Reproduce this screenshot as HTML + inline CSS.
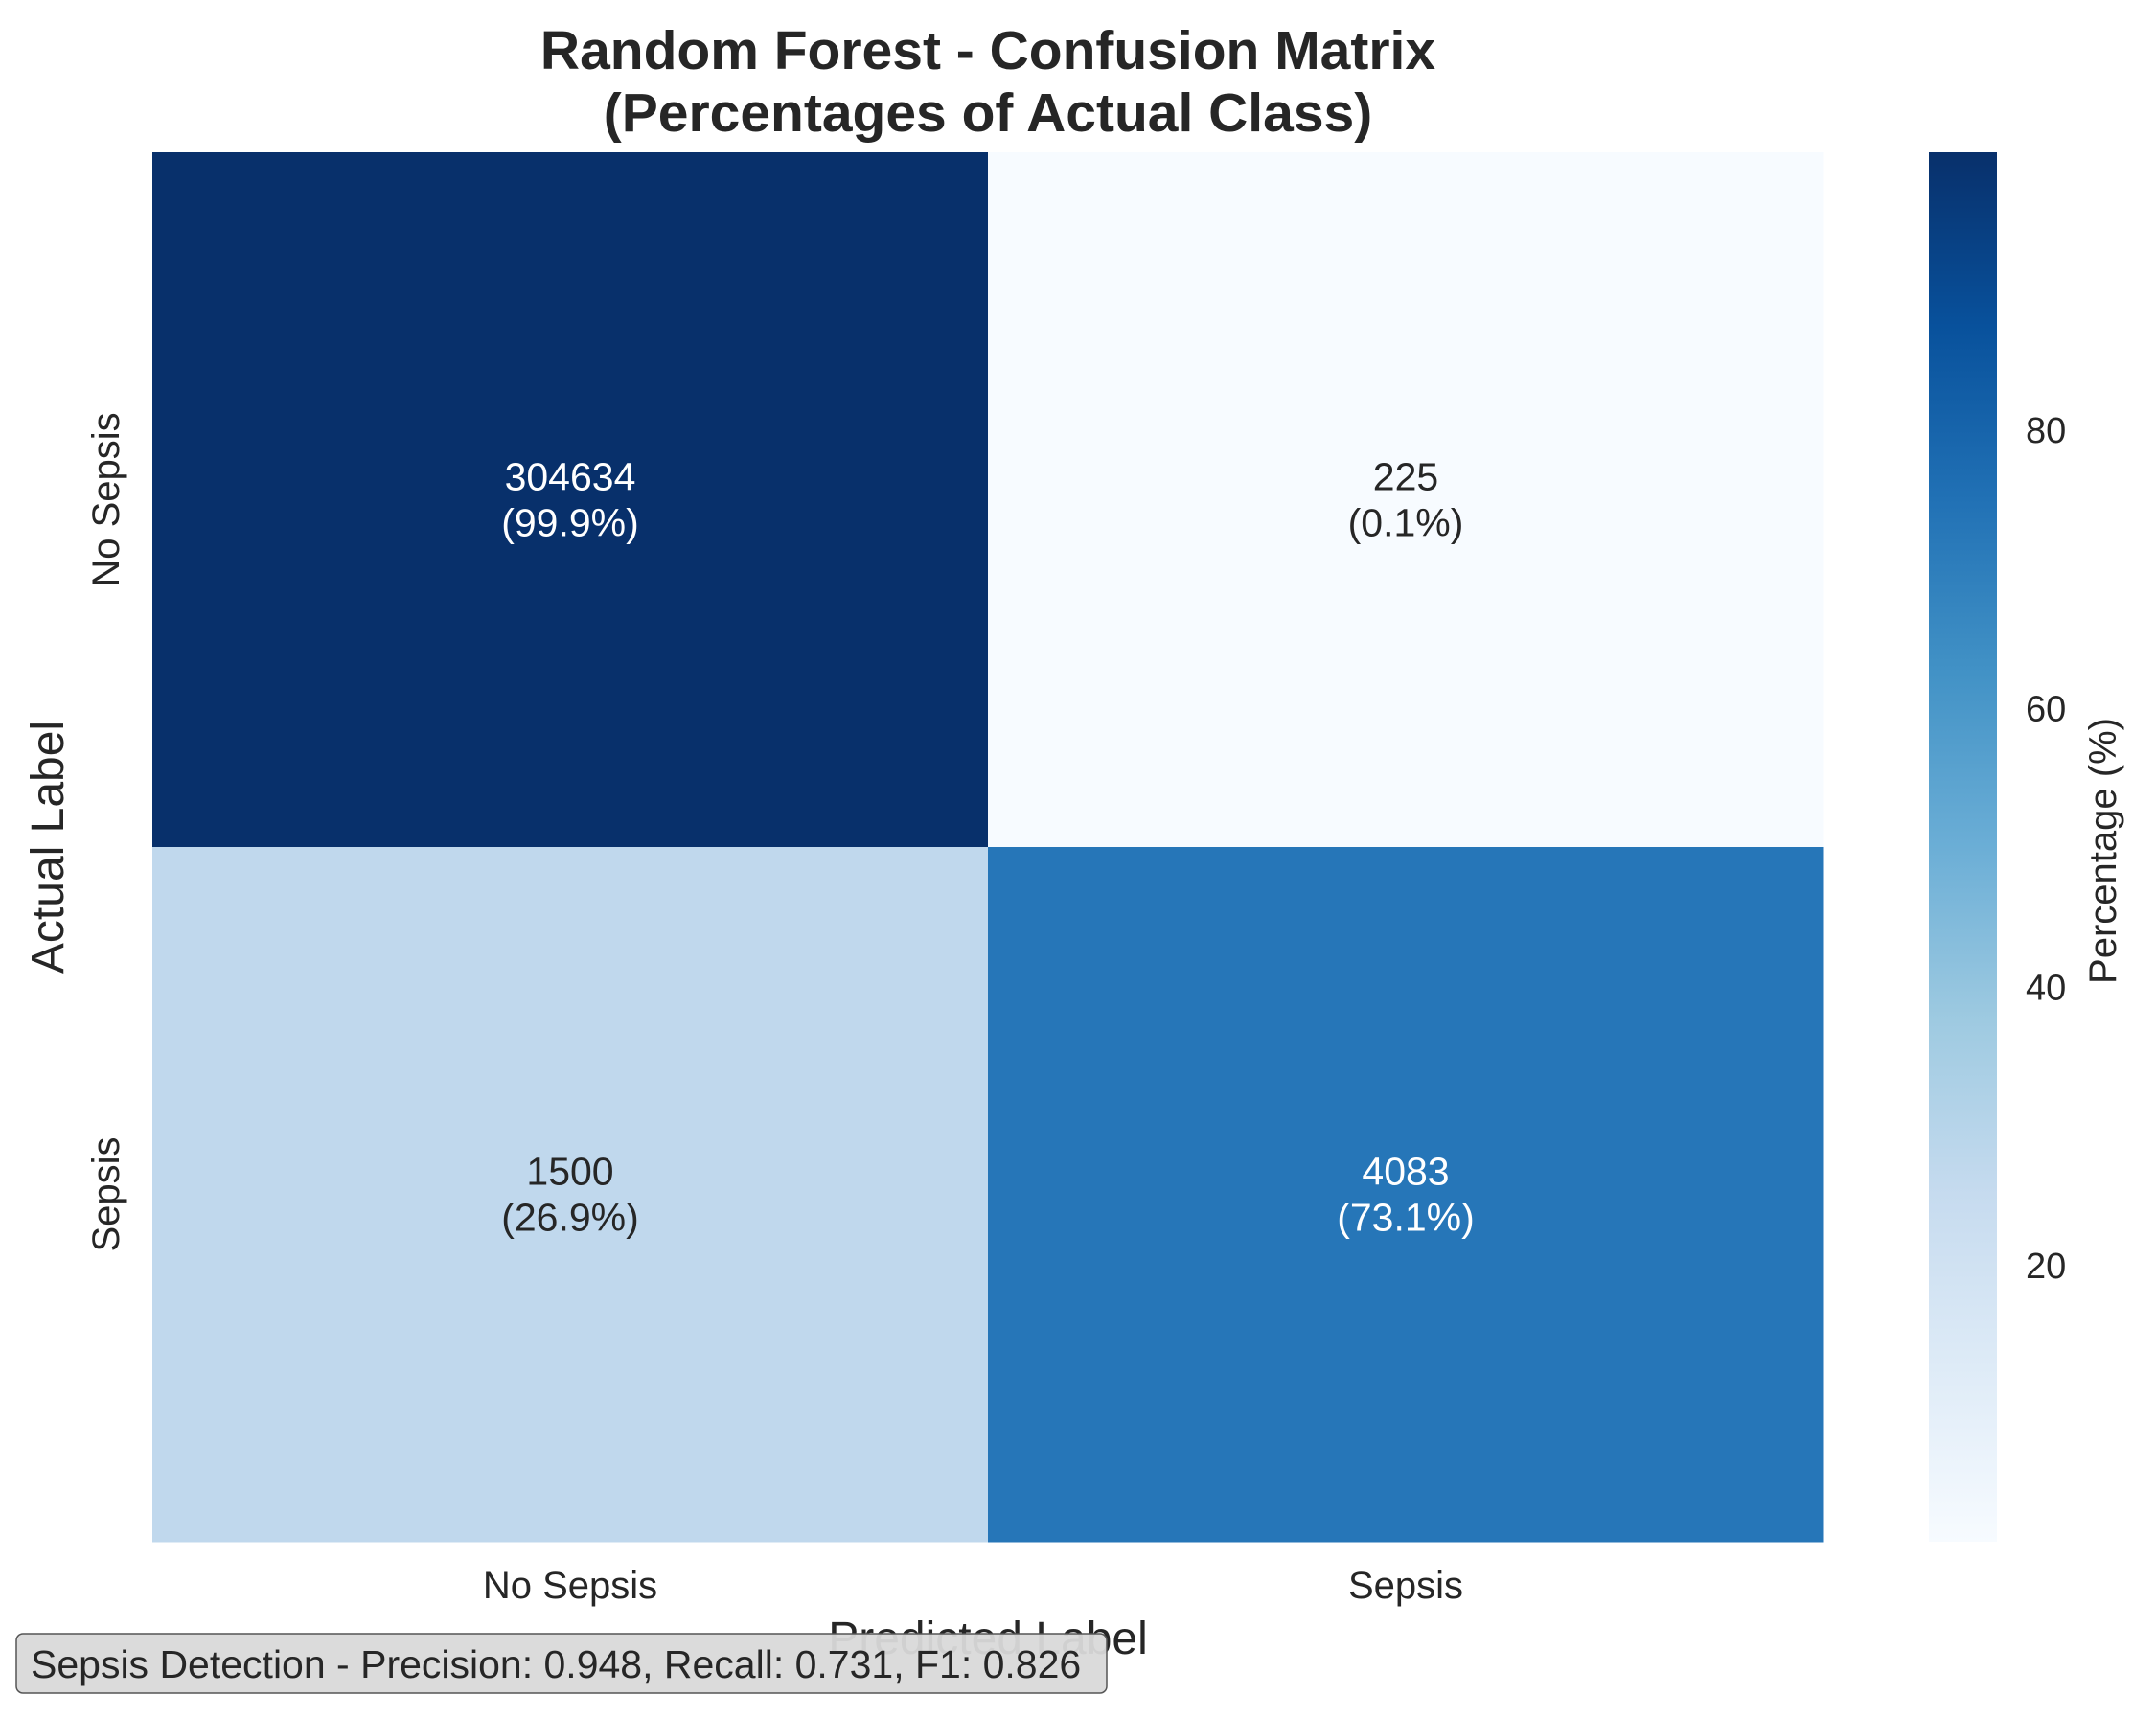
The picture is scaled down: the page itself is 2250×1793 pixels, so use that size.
<!DOCTYPE html>
<html><head><meta charset="utf-8"><style>
html,body{margin:0;padding:0;background:#fff;}
svg text{font-family:"Liberation Sans",Arial,sans-serif;fill:#262626;}
</style></head><body>
<svg id="chart" width="2250" height="1788" viewBox="0 0 2250 1788" xmlns="http://www.w3.org/2000/svg">
<defs>
<linearGradient id="cbgrad" x1="0" y1="1" x2="0" y2="0">
<stop offset="0" stop-color="#f7fbff"/><stop offset="0.125" stop-color="#deebf7"/><stop offset="0.25" stop-color="#c6dbef"/><stop offset="0.375" stop-color="#9ecae1"/><stop offset="0.5" stop-color="#6baed6"/><stop offset="0.625" stop-color="#4292c6"/><stop offset="0.75" stop-color="#2171b5"/><stop offset="0.875" stop-color="#08519c"/><stop offset="1" stop-color="#08306b"/>
</linearGradient>
</defs>
<text x="1031" y="72" text-anchor="middle" font-size="57" font-weight="bold">Random Forest - Confusion Matrix</text>
<text x="1031" y="137" text-anchor="middle" font-size="57" font-weight="bold">(Percentages of Actual Class)</text>
<g id="cells"></g>
<rect x="2013" y="159" width="71" height="1450" fill="url(#cbgrad)"/>
<g id="cbticks"></g>
<text transform="translate(2208,888) rotate(-90)" text-anchor="middle" font-size="40">Percentage (%)</text>
<text transform="translate(66,884) rotate(-90)" text-anchor="middle" font-size="48">Actual Label</text>
<text x="1031" y="1726" text-anchor="middle" font-size="48">Predicted Label</text>
<g>
<rect x="17" y="1705" width="1138" height="62" rx="7" fill="#d9d9d9" fill-opacity="0.95" stroke="#555" stroke-width="1.5"/>
<text x="32" y="1751" font-size="41">Sepsis Detection - Precision: 0.948, Recall: 0.731, F1: 0.826</text>
</g>
</svg>
<script>
const categories = ["No Sepsis", "Sepsis"];
const counts = [[304634, 225], [1500, 4083]];
const percents = [[99.9, 0.1], [26.9, 73.1]];
const cbTicks = [20, 40, 60, 80];
const NS = "http://www.w3.org/2000/svg";
const X0 = 159, X1 = 1903, Y0 = 159, Y1 = 1609;
const vmin = 0.1, vmax = 99.9;
const stops = ["#f7fbff","#deebf7","#c6dbef","#9ecae1","#6baed6","#4292c6","#2171b5","#08519c","#08306b"];
function hex(h){return [1,3,5].map(i=>parseInt(h.substr(i,2),16));}
function cmap(v){let t=(v-vmin)/(vmax-vmin);t=Math.max(0,Math.min(1,t));const p=t*(stops.length-1);const i=Math.min(stops.length-2,Math.floor(p));const f=p-i;const a=hex(stops[i]),b=hex(stops[i+1]);return "rgb("+a.map((c,k)=>Math.round(c+(b[k]-c)*f)).join(",")+")";}
const cw = (X1-X0)/categories.length, ch = (Y1-Y0)/categories.length;
function xPos(j){return X0+j*cw;}
function yPos(i){return Y0+i*ch;}
function cbY(v){return Y1-(v-vmin)/(vmax-vmin)*(Y1-Y0);}
const svg = document.getElementById("chart");
const g = document.getElementById("cells");
function mk(tag, attrs, parent){const e=document.createElementNS(NS,tag);for(const k in attrs)e.setAttribute(k,attrs[k]);(parent||svg).appendChild(e);return e;}
for(let i=0;i<categories.length;i++){
  for(let j=0;j<categories.length;j++){
    const v=percents[i][j];
    const r=mk("rect",{x:xPos(j),y:yPos(i),width:cw+0.5,height:ch+0.5,fill:cmap(v)},g);
    
    
    const col = v>50 ? "#ffffff" : "#262626";
    const cx=xPos(j)+cw/2, cy=yPos(i)+ch/2;
    const t1=mk("text",{x:cx,y:cy-10,"text-anchor":"middle","font-size":"41",style:"fill:"+col},g);
    t1.textContent=String(counts[i][j]);
    
    
    const t2=mk("text",{x:cx,y:cy+38,"text-anchor":"middle","font-size":"41",style:"fill:"+col},g);
    t2.textContent="("+v.toFixed(1)+"%)";
    
    
  }
}
categories.forEach((c,k)=>{
  const tx=mk("text",{x:xPos(k)+cw/2,y:1668,"text-anchor":"middle","font-size":"40"});
  tx.textContent=c;
  
  
  const ty=mk("text",{transform:"translate(124,"+(yPos(k)+ch/2)+") rotate(-90)","text-anchor":"middle","font-size":"40"});
  ty.textContent=c;
  
  
});
const cbg=document.getElementById("cbticks");
cbTicks.forEach(v=>{
  const t=mk("text",{x:2114,y:cbY(v)+14,"font-size":"38"},cbg);
  t.textContent=String(v);
  
  
});
</script>
</body></html>
